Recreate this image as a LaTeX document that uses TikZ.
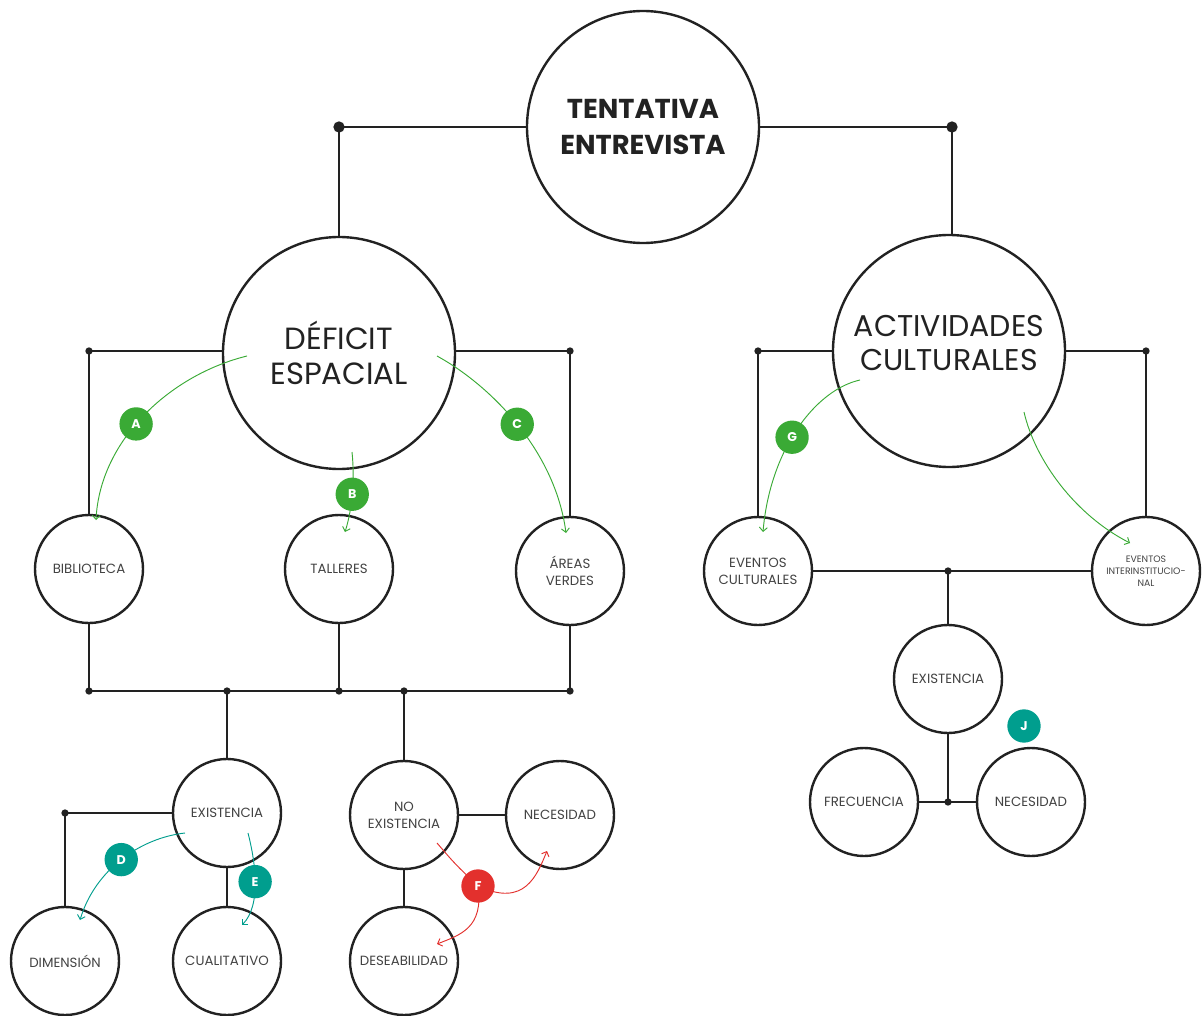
\documentclass[tikz,border=0pt]{standalone}
\usepackage{fontspec}
\setmainfont{Poppins}
\usetikzlibrary{arrows.meta}
\definecolor{grn}{HTML}{3AAA35}
\definecolor{tea}{HTML}{009E8E}
\definecolor{rd}{HTML}{E3302D}
\definecolor{ink}{HTML}{222222}
\begin{document}
\begin{tikzpicture}[x=0.75pt,y=-0.75pt,
  big/.style={circle,draw=ink,line width=1.8pt,minimum size=174pt,inner sep=0pt,align=center,text=ink,fill=white},
  small/.style={circle,draw=ink,line width=1.8pt,minimum size=81pt,inner sep=0pt,align=center,font=\fontsize{10}{12.75}\selectfont,text=ink!85,fill=white},
  conn/.style={line width=1.1pt,draw=ink},
  dotc/.style={circle,fill=ink,inner sep=0pt,minimum size=5.5pt},
  bigdot/.style={circle,fill=ink,inner sep=0pt,minimum size=8.5pt},
  badge/.style={circle,inner sep=0pt,minimum size=25pt,text=white,font=\fontsize{9.5}{9.5}\selectfont\bfseries},
  arr/.style={line width=0.7pt,-{Straight Barb[length=3pt,width=6pt]}},
]
\fill[white] (0,0) rectangle (1203,1016);
\useasboundingbox (0,0) rectangle (1203,1016);

% main circles
\node[big,font=\fontsize{20.5}{27}\selectfont\bfseries] (top) at (643,127) {TENTATIVA\\ENTREVISTA};
\node[big,font=\fontsize{23}{26}\selectfont] (def) at (339,353) {DÉFICIT\\ESPACIAL};
\node[big,label={[font=\fontsize{22.5}{26}\selectfont,align=center,text=ink,yshift=6pt]center:{ACTIVIDADES\\CULTURALES}}] (act) at (949,351) {};

% small circles
\node[small] (bib) at (89,569) {BIBLIOTECA};
\node[small] (tal) at (339,569) {TALLERES};
\node[small] (are) at (570,571) {ÁREAS\\VERDES};
\node[small] (evc) at (758,571) {EVENTOS\\CULTURALES};
\node[small,font=\fontsize{7}{9}\selectfont] (evi) at (1146,571) {EVENTOS\\INTERINSTITUCIO-\\NAL};
\node[small] (exr) at (948,679) {EXISTENCIA};
\node[small] (fre) at (864,802) {FRECUENCIA};
\node[small] (ner) at (1031,802) {NECESIDAD};
\node[small] (exl) at (227,813) {EXISTENCIA};
\node[small] (noe) at (404,815) {NO\\EXISTENCIA};
\node[small] (nel) at (560,815) {NECESIDAD};
\node[small] (dim) at (65,961) {DIMENSIÓN};
\node[small] (cua) at (227,961) {CUALITATIVO};
\node[small] (des) at (404,961) {DESEABILIDAD};

% junction coordinates
\coordinate (tl) at (339,127);
\coordinate (tr) at (952,127);
\coordinate (dl) at (89,351);
\coordinate (dr) at (570,351);
\coordinate (al) at (758,351);
\coordinate (ar) at (1146,351);
\coordinate (b1) at (89,691);
\coordinate (b2) at (227,691);
\coordinate (b3) at (339,691);
\coordinate (b4) at (404,691);
\coordinate (b5) at (570,691);
\coordinate (ej) at (948,571);
\coordinate (fj) at (948,802);
\coordinate (xj) at (65,813);

% connectors
\draw[conn] (top.west) -- (tl) -- (tl |- def.north);
\draw[conn] (top.east) -- (tr) -- (tr |- act.north);
\draw[conn] (def.west |- dl) -- (dl) -- (bib.north);
\draw[conn] (def.east |- dr) -- (dr) -- (are.north);
\draw[conn] (act.west) -- (al) -- (evc.north);
\draw[conn] (act.east) -- (ar) -- (evi.north);
\draw[conn] (evc.east) -- (evi.west);
\draw[conn] (ej) -- (exr.north);
\draw[conn] (exr.south) -- (fj);
\draw[conn] (fre.east) -- (ner.west);
\draw[conn] (bib.south) -- (b1);
\draw[conn] (tal.south) -- (b3);
\draw[conn] (are.south) -- (b5);
\draw[conn] (b1) -- (b5);
\draw[conn] (b2) -- (exl.north);
\draw[conn] (b4) -- (noe.north);
\draw[conn] (noe.east) -- (nel.west);
\draw[conn] (noe.south) -- (des.north);
\draw[conn] (exl.west) -- (xj) -- (dim.north);
\draw[conn] (exl.south) -- (cua.north);

% dots
\node[bigdot] (d1) at (tl) {};
\node[bigdot] (d2) at (tr) {};
\foreach \c in {dl,dr,al,ar,b1,b2,b3,b4,b5,ej,fj,xj} \node[dotc] at (\c) {};

% green arrows
\draw[arr,grn] (247,356) .. controls (170,375) and (100,440) .. (96,520) node[badge,fill=grn,pos=0.55] (bA) {A};
\draw[arr,grn] (352,452) .. controls (355,480) and (352,510) .. (345,532) node[badge,fill=grn,pos=0.5] (bB) {B};
\draw[arr,grn] (437,356) .. controls (490,385) and (555,450) .. (566,533) node[badge,fill=grn,pos=0.5] (bC) {C};
\draw[arr,grn] (860,380) .. controls (815,390) and (770,450) .. (763,532) node[badge,fill=grn,pos=0.55] (bG) {G};
\draw[arr,grn] (1024,412) .. controls (1035,460) and (1075,515) .. (1130,543);

% teal arrows
\draw[arr,tea] (185,833) .. controls (140,838) and (95,870) .. (80,920) node[badge,fill=tea,pos=0.5] (bD) {D};
\draw[arr,tea] (248,833) .. controls (255,860) and (262,905) .. (242,925) node[badge,fill=tea,pos=0.5] (bE) {E};
\node[badge,fill=tea] (bJ) at (1024,726) {J};

% red arrows
\coordinate (fc) at (478,886);
\draw[line width=0.7pt,rd] (437,843) .. controls (455,864) .. (fc);
\draw[arr,rd] (fc) .. controls (484,928) and (460,935) .. (437,944);
\draw[arr,rd] (fc) .. controls (525,908) and (537,875) .. (547,851);
\node[badge,fill=rd] (bF) at (fc) {F};
\end{tikzpicture}
\end{document}
